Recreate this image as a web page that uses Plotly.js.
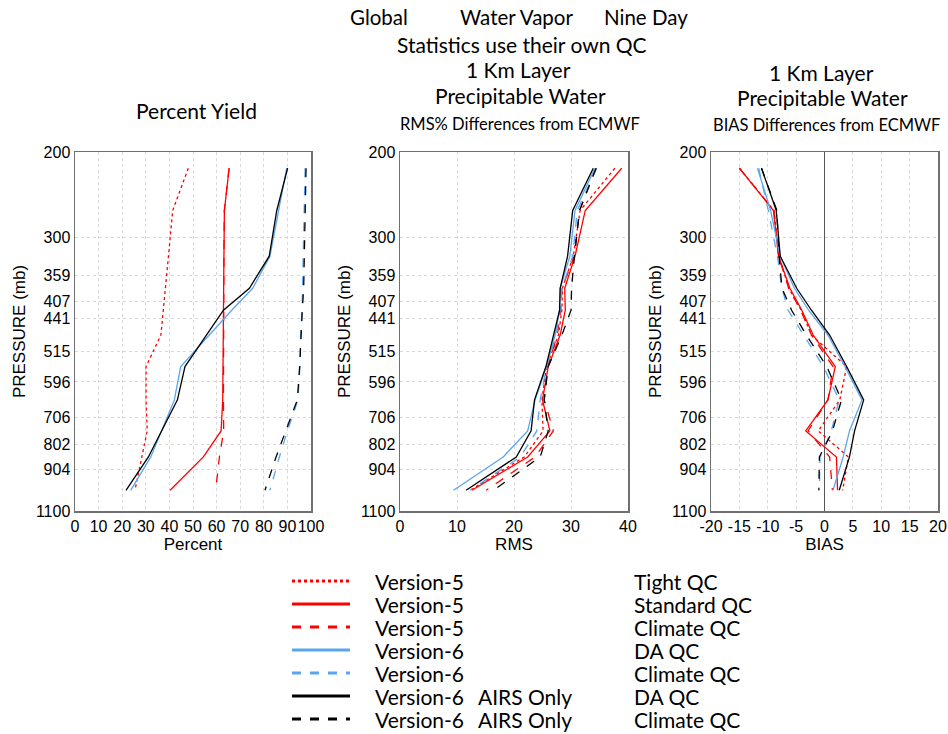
<!DOCTYPE html>
<html>
<head>
<meta charset="utf-8">
<script src="https://cdn.plot.ly/plotly-3.0.1.min.js"></script>
<style>html,body{margin:0;padding:0;background:#fff}#chart{width:948px;height:734px}</style>
</head>
<body>
<div id="chart"></div>
<script>
// Pressure levels (mb)
const levels = [216, 264, 328, 382, 424, 477, 554, 649, 752, 851, 997];
const pressureTicks = [200, 300, 359, 407, 441, 515, 596, 706, 802, 904, 1100];
const yieldTicks = [0, 10, 20, 30, 40, 50, 60, 70, 80, 90, 100];
const rmsTicks = [0, 10, 20, 30, 40];
const biasTicks = [-20, -15, -10, -5, 0, 5, 10, 15, 20];

// Percent yield
const yieldV5Tight = [48.0, 41.4, 39.6, 38.3, 37.4, 36.4, 30.1, 30.1, 30.6, 28.4, 25.4];
const yieldV5Std   = [65.3, 63.3, 63.1, 63.0, 62.9, 62.9, 62.7, 62.6, 61.9, 54.4, 40.3];
const yieldV5Clim  = [65.3, 63.3, 63.1, 63.0, 62.9, 62.9, 62.8, 62.9, 63.0, 61.2, 59.6];
const yieldV6DA    = [89.7, 86.2, 82.6, 75.3, 66.4, 56.9, 44.8, 42.1, 36.7, 32.1, 23.6];
const yieldV6Clim  = [97.5, 97.2, 96.9, 96.5, 96.2, 95.6, 95.3, 94.5, 90.0, 86.6, 82.6];
const yieldAirsDA  = [90.1, 85.5, 82.3, 73.9, 62.9, 55.6, 46.6, 43.4, 36.7, 31.1, 21.6];
const yieldAirsClim= [97.9, 97.6, 97.3, 96.9, 96.3, 95.9, 95.2, 94.2, 89.4, 85.2, 80.5];

// RMS % differences
const rmsV5Tight = [37.7, 31.6, 30.4, 28.5, 28.4, 27.8, 25.7, 24.9, 25.1, 21.8, 12.3];
const rmsV5Std   = [38.9, 32.5, 30.7, 28.9, 29.0, 28.1, 26.0, 25.0, 26.3, 22.4, 12.6];
const rmsV5Clim  = [34.4, 31.5, 30.6, 28.4, 28.2, 27.6, 25.9, 25.3, 26.9, 23.7, 15.1];
const rmsV6DA    = [34.2, 30.7, 29.8, 28.1, 28.0, 27.2, 25.7, 23.7, 22.4, 18.1, 9.4];
const rmsV6Clim  = [34.5, 31.1, 30.3, 28.4, 28.1, 27.4, 25.7, 24.6, 24.0, 21.1, 12.3];
const rmsAirsDA  = [33.9, 30.3, 29.4, 28.1, 28.0, 27.0, 25.6, 23.6, 23.0, 20.4, 11.6];
const rmsAirsClim= [34.4, 31.5, 30.6, 30.1, 30.0, 28.4, 26.0, 25.3, 26.0, 24.6, 16.4];

// BIAS differences
const biasV5Tight = [-15.0, -8.9, -8.0, -6.3, -4.1, -2.3, 3.9, 2.7, -1.1, 4.2, 3.2];
const biasV5Std   = [-15.0, -9.0, -8.1, -6.1, -4.0, -2.0, 1.9, 0.6, -3.3, 2.1, 2.3];
const biasV5Clim  = [-15.0, -8.9, -8.1, -6.3, -4.2, -2.3, 1.5, 0.6, -2.9, 0.9, 1.4];
const biasV6DA    = [-11.8, -9.5, -7.8, -5.3, -2.8, 0.6, 3.6, 6.6, 4.4, 3.3, 1.5];
const biasV6Clim  = [-11.6, -9.9, -8.3, -7.5, -6.4, -3.7, -0.2, 2.6, 1.2, -0.8, -0.9];
const biasAirsDA  = [-11.1, -8.5, -7.8, -4.9, -2.3, 0.9, 3.9, 6.9, 5.3, 4.4, 2.6];
const biasAirsClim= [-11.1, -8.4, -8.0, -7.5, -5.8, -3.2, 0.4, 3.0, 1.4, -0.9, -1.0];

// Legend text
const legendNames = ["Version-5", "Version-5", "Version-5", "Version-6", "Version-6", "Version-6", "Version-6"];
const legendExtra = ["", "", "", "", "", "AIRS Only", "AIRS Only"];
const legendQC = ["Tight QC", "Standard QC", "Climate QC", "DA QC", "Climate QC", "DA QC", "Climate QC"];

const RED = "#ff0000", BLUE = "#5aa5f0", BLACK = "#000000";
const styles = [
  {color: RED, dash: "dot"},
  {color: RED, dash: "solid"},
  {color: RED, dash: "dash"},
  {color: BLUE, dash: "solid"},
  {color: BLUE, dash: "dash"},
  {color: BLACK, dash: "solid"},
  {color: BLACK, dash: "dash"}
];

const panels = [
  {xa: "x", ya: "y", series: [yieldV5Tight, yieldV5Std, yieldV5Clim, yieldV6DA, yieldV6Clim, yieldAirsDA, yieldAirsClim]},
  {xa: "x2", ya: "y2", series: [rmsV5Tight, rmsV5Std, rmsV5Clim, rmsV6DA, rmsV6Clim, rmsAirsDA, rmsAirsClim]},
  {xa: "x3", ya: "y3", series: [biasV5Tight, biasV5Std, biasV5Clim, biasV6DA, biasV6Clim, biasAirsDA, biasAirsClim]}
];

const traces = [];
panels.forEach(p => {
  p.series.forEach((vals, i) => {
    traces.push({
      x: vals, y: levels, xaxis: p.xa, yaxis: p.ya, type: "scatter", mode: "lines",
      line: {color: styles[i].color, dash: styles[i].dash, width: 1.3},
      showlegend: false, hoverinfo: "skip"
    });
  });
});

const W = 948, H = 734;
const fx = v => v / W;
const fy = v => 1 - v / H;
const tickFont = {family: "Liberation Sans, Arial, sans-serif", size: 16, color: "#000"};
const titleFont = {family: "Liberation Sans, Arial, sans-serif", size: 17, color: "#000"};

function yax(domainY, anchor) {
  return {
    type: "log", range: [Math.log10(1100), Math.log10(200)], domain: domainY, anchor: anchor,
    tickvals: pressureTicks, ticktext: pressureTicks.map(String), ticks: "",
    tickfont: tickFont, showgrid: true, gridcolor: "#d8d8d8", griddash: "dot", gridwidth: 1,
    showline: true, mirror: true, linecolor: "#707070", linewidth: 1.5, zeroline: false,
    title: {text: "PRESSURE (mb)", font: titleFont, standoff: 6}
  };
}
function xax(domainX, anchor, range, ticks, title, zero) {
  return {
    range: range, domain: domainX, anchor: anchor, tickvals: ticks, ticktext: ticks.map(String), ticks: "",
    tickangle: 0, tickfont: tickFont, showgrid: true, gridcolor: "#d8d8d8", griddash: "dot", gridwidth: 1,
    showline: true, mirror: true, linecolor: "#707070", linewidth: 1.5,
    zeroline: !!zero, zerolinecolor: "#555", zerolinewidth: 1.2,
    title: {text: title, font: titleFont, standoff: 4}
  };
}

const dY = [fy(511), fy(152)];
const layout = {
  width: W, height: H, margin: {l: 0, r: 0, t: 0, b: 0},
  paper_bgcolor: "#fff", plot_bgcolor: "#fff", showlegend: false,
  xaxis: xax([fx(75), fx(311)], "y", [0, 100], yieldTicks, "Percent"),
  yaxis: yax(dY, "x"),
  xaxis2: xax([fx(400), fx(628)], "y2", [0, 40], rmsTicks, "RMS"),
  yaxis2: yax(dY, "x2"),
  xaxis3: xax([fx(711), fx(938)], "y3", [-20, 20], biasTicks, "BIAS", true),
  yaxis3: yax(dY, "x3"),
  annotations: [],
  shapes: []
};

function addText(text, x, y, size, anchor) {
  layout.annotations.push({
    text: text, x: fx(x), y: fy(y), xref: "paper", yref: "paper",
    xanchor: anchor || "center", yanchor: "middle", showarrow: false,
    font: {family: "Lato, sans-serif", size: size, color: "#000"}
  });
}

// Titles
addText("Global", 379, 17, 20.5);
addText("Water Vapor", 516, 17, 20.5);
addText("Nine Day", 646, 17, 20.5);
addText("Statistics use their own QC", 522, 44, 21);
addText("1 Km Layer", 518, 70, 21);
addText("Precipitable Water", 520, 96, 21);
addText("RMS% Differences from ECMWF", 520, 124, 16.5);
addText("1 Km Layer", 821, 72, 21);
addText("Precipitable Water", 822, 98, 21);
addText("BIAS Differences from ECMWF", 826, 125, 16.5);
addText("Percent Yield", 196, 110, 21);

// Legend
const rowY = [581, 604, 627, 650, 673, 696, 719];
rowY.forEach((y, i) => {
  layout.shapes.push({
    type: "line", xref: "paper", yref: "paper", x0: fx(292), x1: fx(350), y0: fy(y), y1: fy(y),
    line: {color: styles[i].color, dash: styles[i].dash, width: 3}
  });
  addText(legendNames[i], 373, y, 21, "left");
  if (legendExtra[i]) addText(legendExtra[i], 476, y, 21, "left");
  addText(legendQC[i], 632, y, 21, "left");
});

Plotly.newPlot("chart", traces, layout, {staticPlot: true, displayModeBar: false});
</script>
</body>
</html>
